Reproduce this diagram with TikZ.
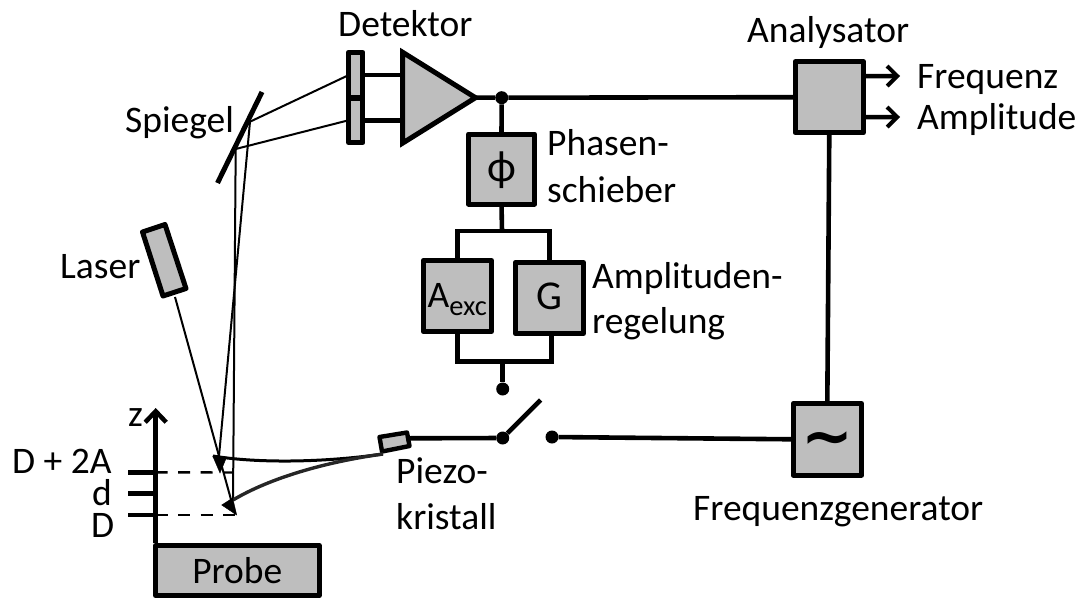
\documentclass[tikz,border=0pt]{standalone}
\usepackage{fontspec}
\setmainfont{Carlito}
\newfontfamily\symfont{DejaVu Sans}
\usetikzlibrary{arrows.meta,shapes.geometric}
\definecolor{boxgray}{HTML}{BEBEBE}
\tikzset{
 wire/.style={line width=4.6pt,black},
 ray/.style={line width=2pt,black},
 barb/.style={-{Straight Barb[length=10pt,width=20pt,line width=4pt]}},
 box/.style={draw=black,line width=5pt,fill=boxgray,line join=round,rectangle,inner sep=0pt,outer sep=0pt,
   minimum width=68.3pt,minimum height=71pt,font=\fontsize{37.5}{40}\selectfont},
 lbl/.style={font=\fontsize{37.5}{40}\selectfont,text=black,inner sep=0pt,anchor=base west},
 dotn/.style={circle,fill=black,inner sep=0pt,minimum size=13pt},
 dashline/.style={line width=2.4pt,dash pattern=on 12pt off 10.5pt},
}
\begin{document}
\begin{tikzpicture}[x=1pt,y=-1pt]
\useasboundingbox (0,0) rectangle (1083,599);
% boxes
\node[box,minimum width=14.5pt,minimum height=45.5pt] (det1) at (355.7,75.2) {};
\node[box,minimum width=14.5pt,minimum height=44.5pt] (det2) at (355.7,120.3) {};
\node[draw=black,line width=5pt,fill=boxgray,shape=isosceles triangle,isosceles triangle stretches,
  shape border rotate=0,minimum width=91pt,minimum height=73pt,inner sep=0pt,outer sep=0pt,anchor=lower side] (amp) at (402.5,97.7) {};
\node[box,minimum width=66pt,minimum height=70pt,text height=24pt,text depth=0pt] (phi) at (501.5,169) {\fontsize{44}{44}\selectfont ϕ};
\node[box,text height=22pt,text depth=0pt] (aexc) at (457.3,296) {A\raisebox{-8pt}{\fontsize{28.5}{28}\selectfont exc}};
\node[box,text height=22.6pt,text depth=0pt] (g) at (549.3,298) {\fontsize{41}{41}\selectfont G};
\node[box] (ana) at (829.3,97.2) {};
\node[box,minimum height=71.7pt,text height=36pt,text depth=0pt] (gen) at (827.3,439.3) {\symfont\bfseries\fontsize{62}{62}\selectfont ∼};
\node[box,minimum width=163.7pt,minimum height=50pt,text height=25pt,text depth=0pt] (probe) at (237.3,570.5) {Probe};
% junctions
\node[dotn] (d1) at (501.7,97.7) {};
\node[dotn] (d2) at (502.7,389) {};
\node[dotn] (d3) at (502.7,438) {};
\node[dotn] (d4) at (552,437) {};
\coordinate (sw) at (540.7,400);
\coordinate (railT) at (502,231);
\coordinate (railB) at (502.7,361.7);
\coordinate (outA1) at (900,76);
\coordinate (outA2) at (900,117);
% piezo and laser
\coordinate (pz) at (409,438.3);
\filldraw[draw=black,line width=4.4pt,fill=boxgray,line join=round] (379.5,437) -- (407,432.5) -- (409.5,446) -- (382,451.5) -- cycle;
\filldraw[draw=black,line width=5pt,fill=boxgray,line join=round] (142.5,232) -- (165,224.5) -- (186,288.5) -- (163,296) -- cycle;
% wires
\draw[wire] (det1.east) -- (det1.east -| amp.lower side);
\draw[wire] (det2.east) -- (det2.east -| amp.lower side);
\draw[wire] (amp.apex) -- (d1) -- (ana.west);
\draw[wire] (d1) -- (phi.north);
\draw[wire] (phi.south) -- (railT);
\draw[wire,line join=miter] (aexc.north) -- (aexc.north |- railT) -- (g.north |- railT) -- (g.north);
\draw[wire,line join=miter] (aexc.south) -- (aexc.south |- railB) -- ([xshift=2pt]g.south |- railB) -- ([xshift=2pt]g.south);
\draw[wire] (railB) -- (d2);
\draw[wire] (pz) -- (d3) -- (sw);
\draw[wire] (d4) -- (gen.west);
\draw[wire] (ana.south) -- (gen.north);
\draw[wire,barb] ([yshift=21pt]ana.east) -- (outA1);
\draw[wire,barb] ([yshift=-20pt]ana.east) -- (outA2);
% mirror
\coordinate (mA) at (262,92);
\coordinate (mB) at (217.5,183);
\draw[line width=5pt] (mA) -- (mB);
% rays
\coordinate (m1) at (250,121.7);
\coordinate (m2) at (235.7,149);
\coordinate (tipU) at (219,456);
\coordinate (tipL) at (233,500);
\coordinate (lasE) at (175,297);
\coordinate (lasT) at (235,514);
\draw[ray] (det1.west) -- (m1) -- (tipU);
\draw[ray] (det2.west) -- (m2) -- (tipL);
\draw[ray] (lasE) -- (lasT);
% cantilever
\coordinate (cantR) at (383,454);
\draw[line width=3pt] (213,456) .. controls (255,463) and (320,463) .. (cantR);
\draw[line width=3.4pt,black!85] (233,500) .. controls (270,478) and (325,462) .. (cantR);
\filldraw[black] (212.7,456) -- (226.7,457) -- (220,473) -- cycle;
\filldraw[black] (221.7,505) -- (232.7,498) -- (236.7,515) -- cycle;
% z axis
\coordinate (zT) at (155.7,408);
\coordinate (zB) at (155.7,543);
\coordinate (t1) at (128,472.3);
\coordinate (t2) at (128,493.7);
\coordinate (t3) at (128,515);
\draw[line width=5pt,-{Straight Barb[length=11pt,width=21pt,line width=4.5pt]}] (zB) -- (zT);
\draw[wire] (t1) -- (zT |- t1);
\draw[wire] (t2) -- (zT |- t2);
\draw[wire] (t3) -- (zT |- t3);
\draw[dashline] (zT |- t1) -- (233,472.5);
\draw[dashline] (zT |- t3) -- (235,515);
% labels
\node[lbl] (detektor) at (338,37) {Detektor};
\node[lbl] (analysator) at (747,43) {Analysator};
\node[lbl] (freq) at (917,88.3) {Frequenz};
\node[lbl] (ampl) at (917,129) {Amplitude};
\node[lbl] (spiegel) at (125,132) {Spiegel};
\node[lbl] (phasen) at (547,155.5) {Phasen-};
\node[lbl] (schieber) at (547,202.5) {schieber};
\node[lbl] (ampreg) at (592,288) {Amplituden-};
\node[lbl] (regel) at (592,333) {regelung};
\node[lbl] (laser) at (60,278) {Laser};
\node[lbl] (z) at (128,426) {z};
\node[lbl] (d2a) at (12,473) {D + 2A};
\node[lbl] (dd) at (92,505) {d};
\node[lbl] (dD) at (91,537) {D};
\node[lbl] (piezo) at (396,483) {Piezo-};
\node[lbl] (krist) at (396,529) {kristall};
\node[lbl] (fgen) at (693,520) {Frequenzgenerator};
\end{tikzpicture}
\end{document}
